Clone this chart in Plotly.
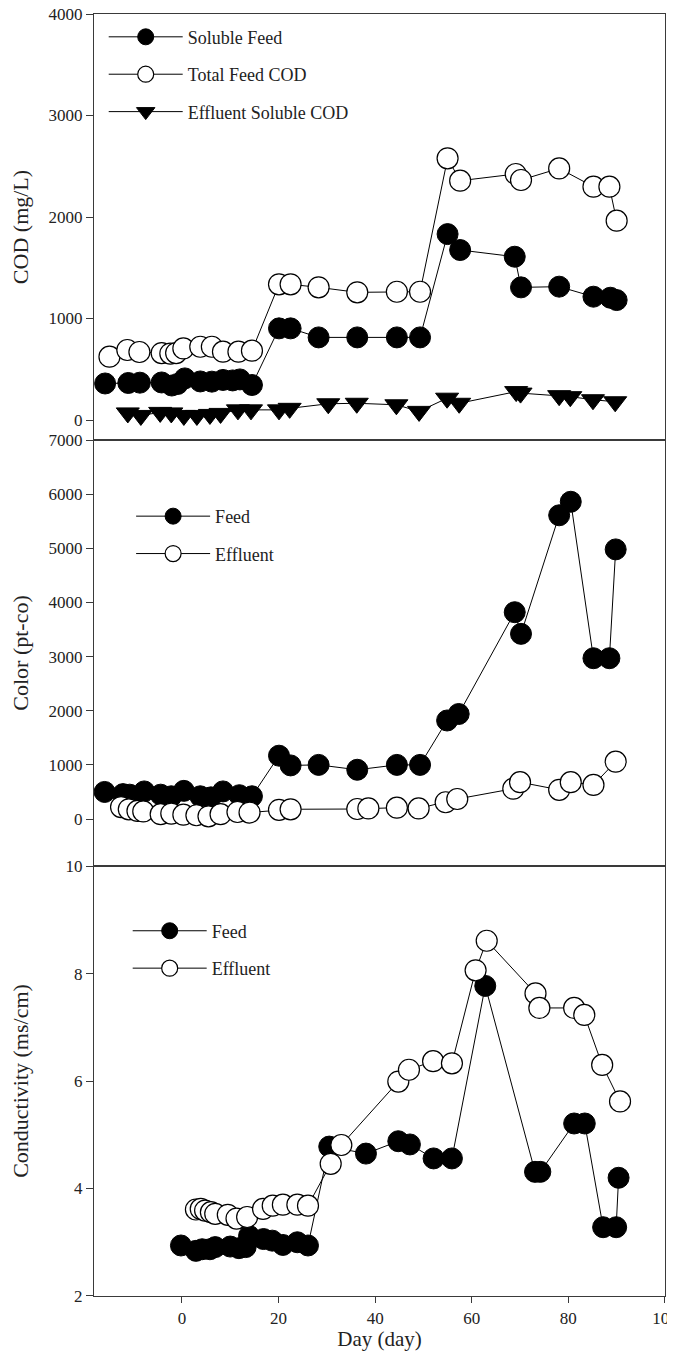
import plotly.graph_objects as go
from plotly.subplots import make_subplots

# ---------------- data ----------------
# Panel 1: COD (mg/L)
cod_sol_days = [-15.9, -11.1, -8.7, -4.2, -2.1, -0.9, 0.6, 3.8, 6.2, 8.5, 10.5, 12.0, 14.5,
                20.1, 22.5, 28.3, 36.3, 44.5, 49.3, 55.0, 57.6, 68.9, 70.2, 78.1, 85.2, 88.7, 90.0]
cod_soluble_feed = [360, 365, 368, 370, 340, 355, 410, 380, 378, 395, 390, 400, 345,
                    903, 903, 814, 814, 814, 814, 1832, 1675, 1609, 1307, 1314, 1215, 1205, 1182]

cod_tot_days = [-15.0, -11.3, -8.8, -4.2, -2.4, -1.2, 0.3, 3.8, 6.2, 8.5, 11.7, 14.5,
                20.1, 22.5, 28.3, 36.3, 44.5, 49.3, 55.0, 57.6, 69.1, 70.2, 78.1, 85.2, 88.5, 90.0]
cod_total_feed = [624, 690, 670, 660, 655, 660, 705, 722, 722, 673, 673, 683,
                  1337, 1337, 1307, 1258, 1264, 1264, 2578, 2358, 2424, 2365, 2479, 2299, 2299, 1964]

cod_eff_days = [-11.2, -8.5, -4.5, -2.2, 0.4, 3.1, 5.8, 8.0, 11.6, 14.3, 20.1, 22.3,
                30.3, 36.2, 44.4, 49.1, 54.9, 57.4, 69.2, 70.1, 78.1, 80.4, 85.1, 89.7]
cod_effluent_soluble = [70, 45, 75, 70, 45, 45, 55, 65, 100, 100, 100, 115,
                        160, 165, 150, 85, 215, 165, 280, 265, 240, 230, 200, 180]

# Panel 2: Color (pt-co)
col_feed_days = [-16.0, -12.2, -10.8, -7.8, -4.4, -2.2, 0.4, 3.8, 6.0, 8.5, 11.9, 14.5,
                 20.1, 22.5, 28.3, 36.3, 44.5, 49.3, 54.9, 57.3, 68.9, 70.2, 78.1, 80.5, 85.2, 88.5, 89.8]
color_feed = [500, 460, 450, 510, 450, 420, 520, 420, 400, 510, 440, 420,
              1170, 990, 1000, 910, 1000, 1000, 1820, 1940, 3820, 3420, 5610, 5860, 2970, 2970, 4980]

col_eff_days = [-12.6, -11.0, -9.2, -8.0, -4.4, -2.2, 0.3, 3.0, 5.5, 8.0, 11.5, 14.0,
                20.1, 22.5, 36.3, 38.6, 44.5, 49.0, 54.6, 57.0, 68.6, 70.0, 78.1, 80.5, 85.2, 89.8]
color_effluent = [220, 180, 150, 140, 90, 100, 80, 70, 50, 90, 130, 120,
                  170, 180, 185, 195, 210, 195, 310, 370, 560, 680, 540, 680, 630, 1060]

# Panel 3: Conductivity (ms/cm)
cond_feed_days = [-0.2, 2.9, 4.2, 5.8, 6.9, 10.0, 11.8, 13.2, 13.9, 16.9, 18.7, 20.9, 23.9, 26.1,
                  30.5, 38.1, 44.8, 47.2, 52.1, 55.9, 62.8, 73.1, 74.2, 81.2, 83.4, 87.2, 89.9, 90.4]
cond_feed = [2.94, 2.84, 2.87, 2.87, 2.91, 2.92, 2.89, 2.91, 3.12, 3.06, 3.03, 2.95, 3.00, 2.94,
             4.78, 4.65, 4.88, 4.82, 4.56, 4.56, 7.77, 4.31, 4.31, 5.21, 5.21, 3.28, 3.28, 4.20]

cond_eff_days = [2.9, 3.9, 4.8, 6.0, 6.9, 9.5, 11.3, 13.5, 16.8, 18.8, 20.9, 23.9, 26.1,
                 30.8, 33.0, 44.8, 47.0, 52.0, 55.9, 60.8, 63.1, 73.2, 74.0, 81.2, 83.3, 87.0, 90.7]
cond_effluent = [3.61, 3.62, 3.59, 3.56, 3.53, 3.51, 3.44, 3.47, 3.62, 3.68, 3.70, 3.70, 3.68,
                 4.46, 4.81, 5.99, 6.21, 6.37, 6.33, 8.06, 8.61, 7.63, 7.36, 7.36, 7.23, 6.30, 5.62]

x_ticks = [0, 20, 40, 60, 80, 100]
cod_ticks = [0, 1000, 2000, 3000, 4000]
color_ticks = [0, 1000, 2000, 3000, 4000, 5000, 6000, 7000]
cond_ticks = [2, 4, 6, 8, 10]

# ---------------- figure ----------------
fig = make_subplots(rows=3, cols=1, shared_xaxes=True, vertical_spacing=0)

LINE = dict(color="black", width=1)
MSIZE = 21


def filled(sym="circle"):
    return dict(symbol=sym, size=MSIZE if sym == "circle" else 20, color="black",
                line=dict(color="black", width=1))


def hollow():
    return dict(symbol="circle", size=MSIZE, color="white", line=dict(color="black", width=1.2))


fig.add_trace(go.Scatter(x=cod_sol_days, y=cod_soluble_feed, name="Soluble Feed",
                         mode="lines+markers", line=LINE, marker=filled(),
                         legend="legend", legendgroup="g1"), row=1, col=1)
fig.add_trace(go.Scatter(x=cod_tot_days, y=cod_total_feed, name="Total Feed COD",
                         mode="lines+markers", line=LINE, marker=hollow(),
                         legend="legend", legendgroup="g2"), row=1, col=1)
fig.add_trace(go.Scatter(x=cod_eff_days, y=cod_effluent_soluble, name="Effluent Soluble COD",
                         mode="lines+markers", line=LINE, marker=filled("triangle-down"),
                         legend="legend", legendgroup="g3"), row=1, col=1)

fig.add_trace(go.Scatter(x=col_feed_days, y=color_feed, name="Feed",
                         mode="lines+markers", line=LINE, marker=filled(),
                         legend="legend2", legendgroup="g4"), row=2, col=1)
fig.add_trace(go.Scatter(x=col_eff_days, y=color_effluent, name="Effluent",
                         mode="lines+markers", line=LINE, marker=hollow(),
                         legend="legend2", legendgroup="g5"), row=2, col=1)

fig.add_trace(go.Scatter(x=cond_feed_days, y=cond_feed, name="Feed",
                         mode="lines+markers", line=LINE, marker=filled(),
                         legend="legend3", legendgroup="g6"), row=3, col=1)
fig.add_trace(go.Scatter(x=cond_eff_days, y=cond_effluent, name="Effluent",
                         mode="lines+markers", line=LINE, marker=hollow(),
                         legend="legend3", legendgroup="g7"), row=3, col=1)

AX = dict(showline=True, linecolor="#3a3a3a", linewidth=1.2, mirror=True, showgrid=False,
          zeroline=False, tickcolor="#3a3a3a", ticklen=7, tickwidth=1, automargin=False,
          ticklabeloverflow="allow",
          tickfont=dict(family="Liberation Serif", size=17, color="#222"))
TITLE_FONT = dict(family="Liberation Serif", size=22, color="#222")

fig.update_xaxes(**AX, range=[-18.2, 100.01])
fig.update_xaxes(showticklabels=False, ticks="", row=1, col=1)
fig.update_xaxes(showticklabels=False, ticks="", row=2, col=1)
fig.update_xaxes(ticks="outside", tickvals=x_ticks, ticklen=6, showticklabels=True,
                 title=dict(text="Day (day)", font=dict(family="Liberation Serif", size=21, color="#222"),
                            standoff=0), row=3, col=1)

fig.update_yaxes(**AX, ticks="outside")
fig.update_yaxes(range=[-197, 4000.5], tickvals=cod_ticks, domain=[0.6677, 1.0],
                 title=dict(text="COD (mg/L)", font=TITLE_FONT, standoff=17), row=1, col=1)
fig.update_yaxes(range=[-868, 7000.5], tickvals=color_ticks, domain=[0.3354, 0.6677],
                 title=dict(text="Color (pt-co)", font=TITLE_FONT, standoff=17), row=2, col=1)
fig.update_yaxes(range=[2, 10.001], tickvals=cond_ticks, domain=[0.0, 0.3354],
                 title=dict(text="Conductivity (ms/cm)", font=TITLE_FONT, standoff=35), row=3, col=1)

LEG = dict(bgcolor="rgba(0,0,0,0)", borderwidth=0, itemwidth=74, tracegroupgap=11,
           xanchor="left", yanchor="top", itemsizing="trace",
           font=dict(family="Liberation Serif", size=18, color="#222"))

# page body has an 8 px margin; plot area placed to match the reference on screen
fig.update_layout(
    width=675, height=1344,
    margin=dict(l=86, r=18, t=6, b=56, autoexpand=False),
    plot_bgcolor="white", paper_bgcolor="white",
    font=dict(family="Liberation Serif", size=17, color="#222"),
    showlegend=True,
    legend=dict(**LEG, x=0.017, y=0.9964),
    legend2=dict(**LEG, x=0.065, y=0.6225),
    legend3=dict(**LEG, x=0.059, y=0.2991),
)

fig.write_html("out.html")
